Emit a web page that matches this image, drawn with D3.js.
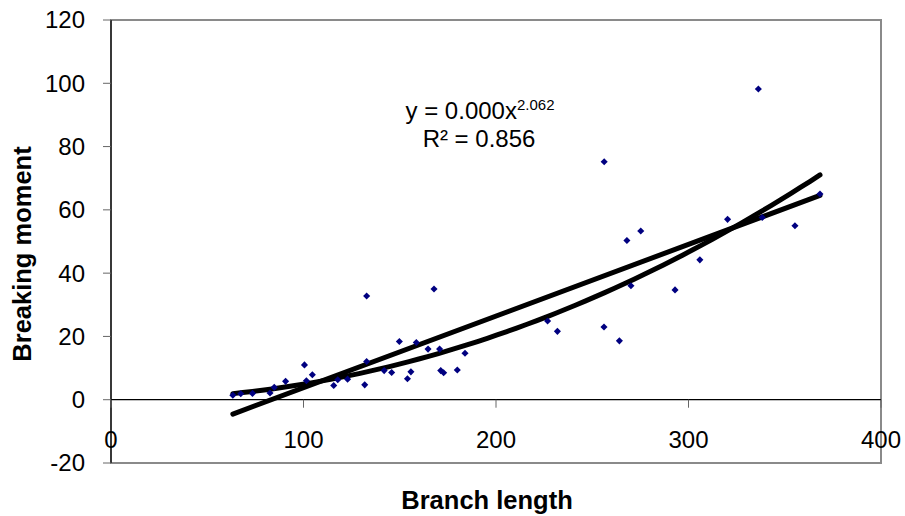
<!DOCTYPE html>
<html>
<head>
<meta charset="utf-8">
<script src="https://cdn.jsdelivr.net/npm/d3@7"></script>
<style>
  body { margin: 0; background: #fff; }
  text { font-family: "Liberation Sans", Arial, sans-serif; fill: #000; }
</style>
</head>
<body>
<svg id="chart" width="905" height="516"></svg>
<script>
// branch length (x) and breaking moment (y)
var branchLength = [63.3, 67.4, 73.5, 82.6, 84.8, 90.7, 100.5, 101.5, 104.6, 115.7,
  117.8, 122.9, 131.8, 132.8, 132.8, 141.9, 145.8, 149.8, 154.0, 155.8,
  158.6, 164.7, 167.8, 170.7, 171.3, 172.8, 179.9, 183.9, 226.8, 231.9,
  256.2, 256.1, 264.1, 268.0, 270.1, 275.2, 293.0, 305.9, 320.3, 336.3,
  338.3, 355.3, 368.3];
var breakingMoment = [1.4, 1.9, 2.0, 2.1, 3.9, 5.8, 11.0, 6.0, 7.9, 4.5,
  6.3, 6.5, 4.7, 12.1, 32.8, 9.2, 8.6, 18.4, 6.6, 8.8,
  18.1, 16.0, 35.0, 16.0, 9.2, 8.5, 9.4, 14.7, 24.9, 21.6,
  75.2, 23.0, 18.6, 50.3, 36.0, 53.3, 34.7, 44.2, 57.0, 98.2,
  57.6, 55.0, 65.0];
var xTicks = [0, 100, 200, 300, 400];
var yTicks = [-20, 0, 20, 40, 60, 80, 100, 120];
var equationText = ["y = 0.000x", "2.062"];
var rSquaredText = "R² = 0.856";

var svg = d3.select("#chart");
var pL = 111, pR = 881, pT = 20, pB = 463;

var x = d3.scaleLinear().domain([0, 400]).range([pL, pR]);
var y = d3.scaleLinear().domain([-20, 120]).range([pB, pT]);

var pts = branchLength.map(function(v, i) { return {x: v, y: breakingMoment[i]}; });

// plot frame: grey top/right/bottom, black left axis
svg.append("rect")
  .attr("x", pL).attr("y", pT)
  .attr("width", pR - pL).attr("height", pB - pT)
  .attr("fill", "none").attr("stroke", "#8a8a8a").attr("stroke-width", 2);
svg.append("line")
  .attr("x1", pL).attr("x2", pL).attr("y1", pT).attr("y2", pB)
  .attr("stroke", "#000").attr("stroke-width", 1.2);

// y ticks + labels
svg.selectAll(".ytick").data(yTicks).enter().append("line")
  .attr("x1", pL - 8).attr("x2", pL)
  .attr("y1", function(d) { return y(d); }).attr("y2", function(d) { return y(d); })
  .attr("stroke", "#666").attr("stroke-width", 1);
svg.selectAll(".ylab").data(yTicks).enter().append("text")
  .attr("x", pL - 26).attr("y", function(d) { return y(d); })
  .attr("dy", "0.35em").attr("text-anchor", "end")
  .style("font-size", "24px")
  .text(function(d) { return d; });

// x axis at zero
svg.append("line")
  .attr("x1", pL).attr("x2", pR).attr("y1", y(0)).attr("y2", y(0))
  .attr("stroke", "#000").attr("stroke-width", 1.2);
svg.selectAll(".xtick").data(xTicks).enter().append("line")
  .attr("x1", function(d) { return x(d); }).attr("x2", function(d) { return x(d); })
  .attr("y1", y(0)).attr("y2", y(0) + 8)
  .attr("stroke", "#666").attr("stroke-width", 1);
svg.selectAll(".xlab").data(xTicks).enter().append("text")
  .attr("x", function(d) { return x(d); }).attr("y", 448)
  .attr("text-anchor", "middle")
  .style("font-size", "24px")
  .text(function(d) { return d; });

// trend lines fitted to the points
var xmin = d3.min(branchLength), xmax = d3.max(branchLength);
var mx = d3.mean(branchLength), my = d3.mean(breakingMoment);
var sxy = d3.sum(pts, function(p) { return (p.x - mx) * (p.y - my); });
var sxx = d3.sum(pts, function(p) { return (p.x - mx) * (p.x - mx); });
var slope = sxy / sxx, icpt = my - slope * mx;

var lx = pts.map(function(p) { return Math.log(p.x); });
var ly = pts.map(function(p) { return Math.log(p.y); });
var mlx = d3.mean(lx), mly = d3.mean(ly);
var b = d3.sum(lx, function(v, i) { return (v - mlx) * (ly[i] - mly); }) /
        d3.sum(lx, function(v) { return (v - mlx) * (v - mlx); });
var a = Math.exp(mly - b * mlx);

var line = d3.line().x(function(d) { return x(d[0]); }).y(function(d) { return y(d[1]); });
var xs = d3.range(0, 61).map(function(i) { return xmin + (xmax - xmin) * i / 60; });

svg.append("path")
  .attr("d", line([[xmin, icpt + slope * xmin], [xmax, icpt + slope * xmax]]))
  .attr("fill", "none").attr("stroke", "#000").attr("stroke-width", 5)
  .attr("stroke-linecap", "round");
svg.append("path")
  .attr("d", line(xs.map(function(v) { return [v, a * Math.pow(v, b)]; })))
  .attr("fill", "none").attr("stroke", "#000").attr("stroke-width", 5)
  .attr("stroke-linecap", "round");

// data points: navy diamonds
svg.selectAll(".pt").data(pts).enter().append("path")
  .attr("d", d3.symbol().type(d3.symbolDiamond2).size(32))
  .attr("transform", function(d) { return "translate(" + x(d.x) + "," + y(d.y) + ")"; })
  .attr("fill", "#000080");

// equation labels
var eq = svg.append("text").attr("x", 480).attr("y", 119)
  .attr("text-anchor", "middle").style("font-size", "24px");
eq.append("tspan").text(equationText[0]);
eq.append("tspan").attr("dy", -9).style("font-size", "15px").text(equationText[1]);
svg.append("text").attr("x", 479).attr("y", 147)
  .attr("text-anchor", "middle").style("font-size", "24px").text(rSquaredText);

// axis titles
svg.append("text").attr("x", 487).attr("y", 509)
  .attr("text-anchor", "middle").style("font-size", "25.5px").style("font-weight", "bold")
  .text("Branch length");
svg.append("text")
  .attr("transform", "translate(31," + 254 + ") rotate(-90)")
  .attr("text-anchor", "middle").style("font-size", "25.5px").style("font-weight", "bold")
  .text("Breaking moment");
</script>
</body>
</html>
